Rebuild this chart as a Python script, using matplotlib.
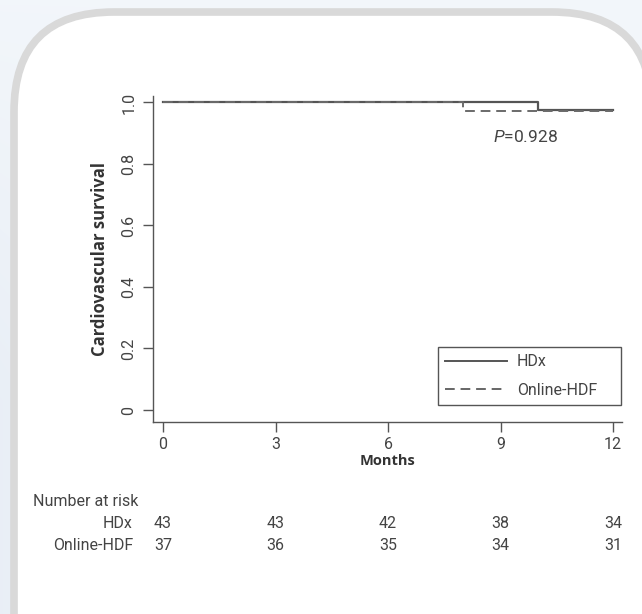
import numpy as np
import matplotlib
matplotlib.use("Agg")
import matplotlib.pyplot as plt
from matplotlib.patches import FancyBboxPatch
from matplotlib.lines import Line2D

plt.rcParams['font.family'] = ['Roboto', 'DejaVu Sans']
plt.rcParams['mathtext.fontset'] = 'custom'
plt.rcParams['mathtext.rm'] = 'Roboto'
plt.rcParams['mathtext.it'] = 'Roboto:italic'

# ---- data ----
groups = ["HDx", "Online-HDF"]
hdx_time = [0, 10, 12]
hdx_surv = [1.0, 0.977, 0.977]
hdf_time = [0, 8, 12]
hdf_surv = [1.0, 0.973, 0.973]
risk_times = [0, 3, 6, 9, 12]
hdx_risk = [43, 43, 42, 38, 34]
hdf_risk = [37, 36, 35, 34, 31]
p_text = "0.928"
x_ticks = [0, 3, 6, 9, 12]
y_ticks = [0, 0.2, 0.4, 0.6, 0.8, 1.0]
y_ticklabels = ["0", "0.2", "0.4", "0.6", "0.8", "1.0"]

W, H = 642, 614
fig = plt.figure(figsize=(W / 100, H / 100), dpi=100)

# ---- background & frame ----
bg = fig.add_axes([0, 0, 1, 1], zorder=-10)
bg.set_xlim(0, W)
bg.set_ylim(H, 0)
bg.axis('off')
yy, xx = np.mgrid[0:H, 0:W]
base = np.array([0.950, 0.965, 0.982])
dark = np.array([0.905, 0.930, 0.962])
t = np.clip(1 - xx / 250.0, 0, 1) * np.clip(yy / 400.0, 0, 1) * 0.8
img = base[None, None, :] * (1 - t[..., None]) + dark[None, None, :] * t[..., None]
bg.imshow(img, extent=[0, W, H, 0], aspect='auto', zorder=0)
frame = FancyBboxPatch((14, 12), 652 - 14, 760 - 12,
                       boxstyle="round,pad=0,rounding_size=100",
                       facecolor='white', edgecolor='#d9d9d9', linewidth=5.5,
                       zorder=1)
bg.add_patch(frame)

# ---- main axes ----
ax_l, ax_r, ax_t, ax_b = 153, 622, 96, 422
ax = fig.add_axes([ax_l / W, (H - ax_b) / H, (ax_r - ax_l) / W, (ax_b - ax_t) / H])
ax.patch.set_alpha(0)
ax.set_xlim(-0.267, 12.24)
ax.set_ylim(-0.039, 1.021)

line_c = '#555555'
txt_c = '#444444'
ax.step(hdx_time, hdx_surv, where='post', color=line_c, lw=1.6, zorder=3)
ax.step(hdf_time, hdf_surv, where='post', color='#6a6a6a', lw=1.4,
        linestyle=(0, (5.0, 3.0)), zorder=4)

for s in ['top', 'right']:
    ax.spines[s].set_visible(False)
for s in ['left', 'bottom']:
    ax.spines[s].set_color(line_c)
    ax.spines[s].set_linewidth(1.0)

ax.set_xticks(x_ticks)
ax.set_xticklabels([str(v) for v in x_ticks])
ax.set_yticks(y_ticks)
ax.set_yticklabels(y_ticklabels, rotation=90, va='center')
ax.tick_params(axis='both', direction='out', length=7, width=1.0,
               color=line_c, labelcolor=txt_c, labelsize=11.5)
ax.tick_params(axis='x', pad=4)
ax.tick_params(axis='y', pad=5)

bold_font = ['Open Sans', 'DejaVu Sans']
ax.set_xlabel("Months", fontsize=10.5, fontweight='bold', color='#333333',
              labelpad=1.5, family=bold_font)
ax.set_ylabel("Cardiovascular survival", fontsize=12, fontweight='bold',
              color='#333333', labelpad=9, family=bold_font)

ax.text(8.8, 0.888, r"$P$=" + p_text, fontsize=12.5, color=txt_c,
        ha='left', va='center')

handles = [Line2D([], [], color=line_c, lw=1.4),
           Line2D([], [], color='#666666', lw=1.4, linestyle=(0, (5.0, 3.0)))]
bx0 = (438 - ax_l) / (ax_r - ax_l)
by1 = (ax_b - 347) / (ax_b - ax_t)
bw = (621 - 438) / (ax_r - ax_l)
leg = ax.legend(handles, groups, loc='upper left',
                bbox_to_anchor=(bx0, by1 - 0.185, bw, 0.185), mode='expand',
                fancybox=False, framealpha=1, edgecolor=line_c,
                fontsize=11.5, handlelength=3.9, handletextpad=0.6,
                labelspacing=0.85, borderpad=0.45, borderaxespad=0,
                labelcolor=txt_c)
leg.get_frame().set_linewidth(1.0)

# ---- number at risk table ----
def fy(py):
    return (H - py) / H

fs = 11.5
fig.text(33 / W, fy(501), "Number at risk", fontsize=fs, color=txt_c,
         ha='left', va='center')
row_y = [523, 546]
for name, ry in zip(groups, row_y):
    fig.text(133 / W, fy(ry), name, fontsize=fs, color=txt_c,
             ha='right', va='center')
for rt, a, b in zip(risk_times, hdx_risk, hdf_risk):
    xf = (ax.transData.transform((rt, 0))[0]) / W
    fig.text(xf, fy(row_y[0]), str(a), fontsize=fs, color=txt_c, ha='center', va='center')
    fig.text(xf, fy(row_y[1]), str(b), fontsize=fs, color=txt_c, ha='center', va='center')

fig.savefig("out.png", dpi=100)
